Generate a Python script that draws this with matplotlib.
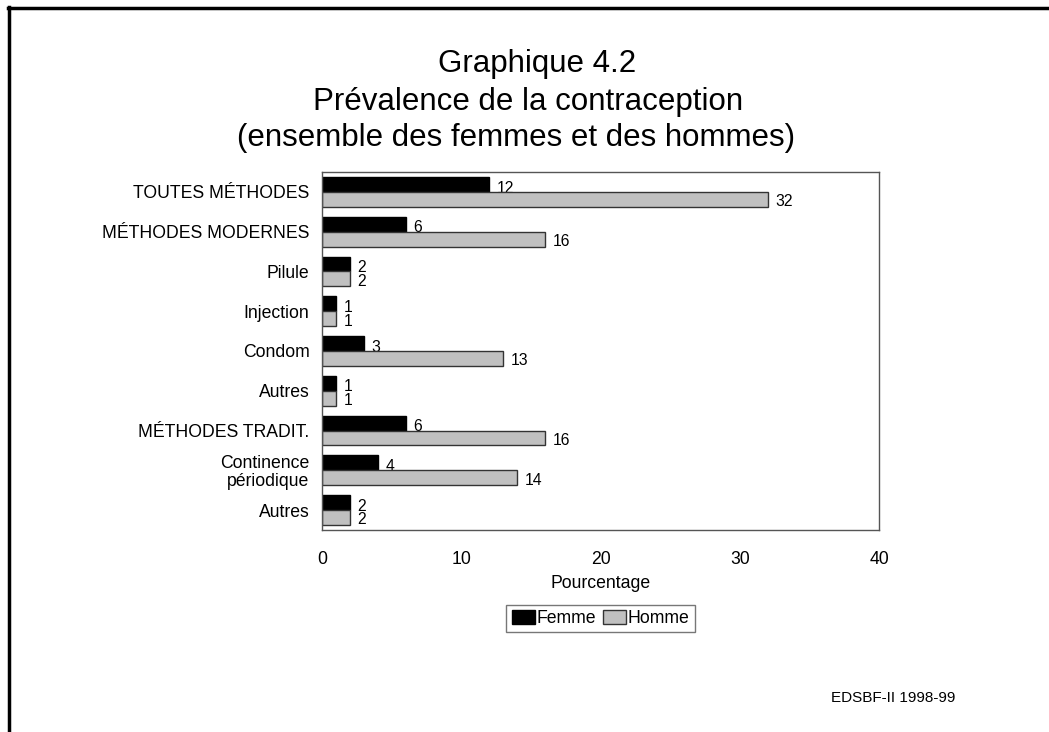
import numpy as np
import matplotlib.pyplot as plt
from matplotlib.lines import Line2D

plt.rcParams['font.family'] = ['Liberation Sans', 'DejaVu Sans']

categories = ['TOUTES MÉTHODES', 'MÉTHODES MODERNES', 'Pilule', 'Injection', 'Condom',
              'Autres', 'MÉTHODES TRADIT.', 'Continence\npériodique', 'Autres']
femme = [12, 6, 2, 1, 3, 1, 6, 4, 2]
homme = [32, 16, 2, 1, 13, 1, 16, 14, 2]

femmeColor = 'black'
hommeColor = '#c0c0c0'
barH = 0.375

fig = plt.figure(figsize=(10.49, 7.32), dpi=100)
ax = fig.add_axes([0.307, 0.276, 0.531, 0.489])

y = np.arange(len(categories))
ax.barh(y - barH / 2, femme, height=barH, color=femmeColor, edgecolor='black', linewidth=1, zorder=2)
ax.barh(y + barH / 2, homme, height=barH, color=hommeColor, edgecolor='#333333', linewidth=1, zorder=2)

# value labels, a bit below bar centre; femme labels sit under the homme bar
for i in range(len(categories)):
    ax.text(femme[i] + 0.55, y[i] - barH / 2 + 0.09, str(femme[i]), va='center', ha='left',
            fontsize=11.3, zorder=1)
    ax.text(homme[i] + 0.55, y[i] + barH / 2 + 0.06, str(homme[i]), va='center', ha='left',
            fontsize=11.3, zorder=3)

ax.set_xlim(0, 40)
ax.set_ylim(len(categories) - 0.5, -0.5)
ax.set_xticks([0, 10, 20, 30, 40])
ax.set_yticks(y)
ax.set_yticklabels(categories, ha='right', linespacing=1.05)
ax.tick_params(axis='both', length=0, labelsize=12.7)
ax.tick_params(axis='x', pad=15)
ax.tick_params(axis='y', pad=9)
for s in ax.spines.values():
    s.set_color('#555555')
    s.set_linewidth(1)

ax.set_xlabel('Pourcentage', fontsize=12.7, labelpad=5)

handles = [plt.Rectangle((0, 0), 1, 1, facecolor=femmeColor, edgecolor='black'),
           plt.Rectangle((0, 0), 1, 1, facecolor=hommeColor, edgecolor='#333333')]
leg = fig.legend(handles, ['Femme', 'Homme'], loc='center', bbox_to_anchor=(0.5725, 0.155),
                 ncol=2, fontsize=12.7, frameon=True, fancybox=False, handlelength=1.3,
                 handleheight=0.8, handletextpad=0.1, columnspacing=0.4, borderpad=0.3)
leg.get_frame().set_edgecolor('#555555')
leg.get_frame().set_linewidth(1)

fig.text(0.512, 0.913, 'Graphique 4.2', ha='center', va='center', fontsize=22.5)
fig.text(0.503, 0.861, 'Prévalence de la contraception', ha='center', va='center', fontsize=22.5)
fig.text(0.492, 0.812, '(ensemble des femmes et des hommes)', ha='center', va='center', fontsize=22.5)

fig.text(0.851, 0.046, 'EDSBF-II 1998-99', ha='center', va='center', fontsize=11)

# page frame: top and left edges
fig.add_artist(Line2D([0.0076, 1.0], [0.989, 0.989], color='black', linewidth=2.5, transform=fig.transFigure))
fig.add_artist(Line2D([0.0086, 0.0086], [0.0, 0.99], color='black', linewidth=2.5, transform=fig.transFigure))

fig.savefig('out.png', dpi=100)
